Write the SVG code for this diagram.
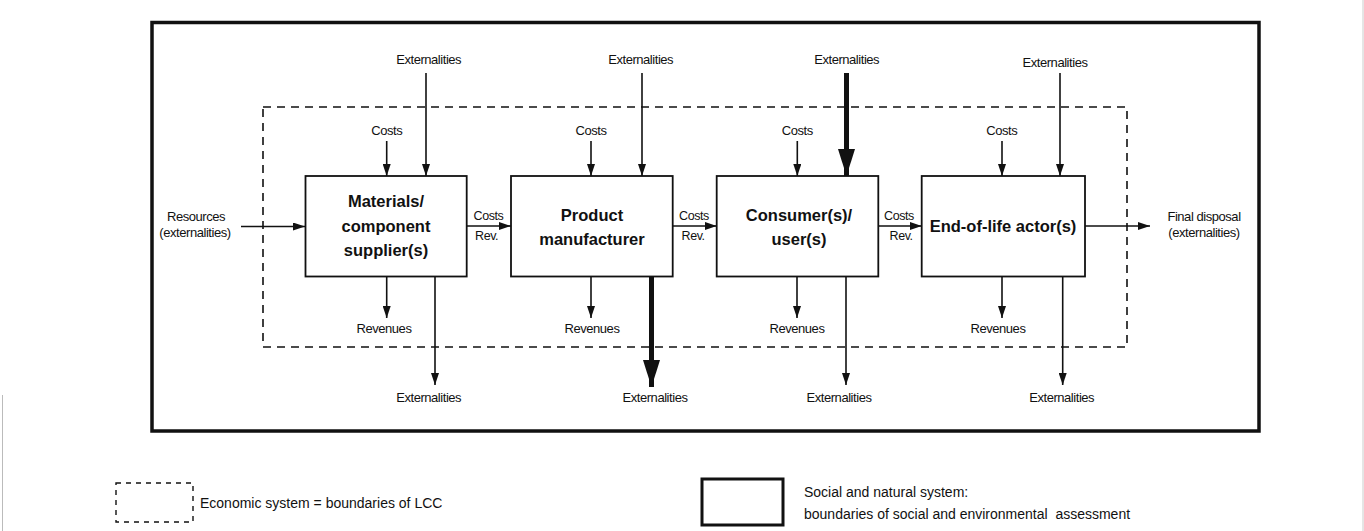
<svg xmlns="http://www.w3.org/2000/svg" width="1364" height="531" viewBox="0 0 1364 531">
<style>
text{font-family:"Liberation Sans",Arial,sans-serif;fill:#111}
.s{font-size:13px;letter-spacing:-0.45px;text-anchor:middle}
.cr{font-size:12.5px;letter-spacing:-0.4px}
.b{font-size:16.5px;font-weight:bold;text-anchor:middle}
.lg{font-size:14px;white-space:pre}
.box{fill:#fff;stroke:#111;stroke-width:1.8}
.ln{stroke:#111;stroke-width:1.6;fill:none}
.th{stroke:#111;stroke-width:5;fill:none}
.dash{fill:none;stroke:#111;stroke-width:1.6;stroke-dasharray:8 6}
</style>
<defs>
<marker id="ah" viewBox="0 0 12 8" refX="12" refY="4" markerWidth="12" markerHeight="8" markerUnits="userSpaceOnUse" orient="auto"><path d="M0,0L12,4L0,8z" fill="#111"/></marker>
<marker id="ahT" viewBox="0 0 27 17" refX="27" refY="8.5" markerWidth="27" markerHeight="17" markerUnits="userSpaceOnUse" orient="auto"><path d="M0,0L27,8.5L0,17z" fill="#111"/></marker>
</defs>
<rect width="1364" height="531" fill="#fff"/>
<line x1="2.5" y1="395" x2="2.5" y2="531" stroke="#bbb" stroke-width="1"/>
<line x1="1363" y1="0" x2="1363" y2="531" stroke="#ccc" stroke-width="1"/>

<g id="social-system">
<rect x="152" y="22.5" width="1107" height="408.5" fill="none" stroke="#111" stroke-width="3.5"/>
</g>
<g id="economic-system">
<rect class="dash" x="263" y="107" width="864" height="240"/>
</g>

<g id="connectors">
<line class="ln" x1="386.7" y1="141" x2="386.7" y2="176" marker-end="url(#ah)"/>
<line class="ln" x1="426" y1="73" x2="426" y2="176" marker-end="url(#ah)"/>
<line class="ln" x1="591" y1="141" x2="591" y2="176" marker-end="url(#ah)"/>
<line class="ln" x1="642" y1="73" x2="642" y2="176" marker-end="url(#ah)"/>
<line class="ln" x1="797.3" y1="141" x2="797.3" y2="176" marker-end="url(#ah)"/>
<line class="th" x1="846.5" y1="73" x2="846.5" y2="176" marker-end="url(#ahT)"/>
<line class="ln" x1="1002" y1="141" x2="1002" y2="176" marker-end="url(#ah)"/>
<line class="ln" x1="1060" y1="73" x2="1060" y2="176" marker-end="url(#ah)"/>
<line class="ln" x1="386.7" y1="276.5" x2="386.7" y2="318" marker-end="url(#ah)"/>
<line class="ln" x1="435" y1="276.5" x2="435" y2="385" marker-end="url(#ah)"/>
<line class="ln" x1="591" y1="276.5" x2="591" y2="318" marker-end="url(#ah)"/>
<line class="th" x1="651.5" y1="276.5" x2="651.5" y2="387" marker-end="url(#ahT)"/>
<line class="ln" x1="797" y1="276.5" x2="797" y2="318" marker-end="url(#ah)"/>
<line class="ln" x1="846" y1="276.5" x2="846" y2="385" marker-end="url(#ah)"/>
<line class="ln" x1="1002" y1="276.5" x2="1002" y2="318" marker-end="url(#ah)"/>
<line class="ln" x1="1062.7" y1="276.5" x2="1062.7" y2="385" marker-end="url(#ah)"/>
<line class="ln" x1="241" y1="226.5" x2="305" y2="226.5" marker-end="url(#ah)"/>
<line class="ln" x1="467" y1="226" x2="511" y2="226" marker-end="url(#ah)"/>
<line class="ln" x1="673" y1="226" x2="716.7" y2="226" marker-end="url(#ah)"/>
<line class="ln" x1="878.3" y1="226" x2="921.7" y2="226" marker-end="url(#ah)"/>
<line class="ln" x1="1085" y1="226" x2="1150" y2="226" marker-end="url(#ah)"/>
</g>

<g id="node-materials">
<rect class="box" x="305.5" y="176" width="161.2" height="100.5"/>
<text class="b" x="386" y="207">Materials/</text>
<text class="b" x="386" y="231.5">component</text>
<text class="b" x="386" y="256">supplier(s)</text>
</g>
<g id="node-manufacturer">
<rect class="box" x="511" y="176" width="161.7" height="100.5"/>
<text class="b" x="592" y="220.5">Product</text>
<text class="b" x="592" y="244.5">manufacturer</text>
</g>
<g id="node-consumer">
<rect class="box" x="716.7" y="176" width="161.6" height="100.5"/>
<text class="b" x="799" y="220.5">Consumer(s)/</text>
<text class="b" x="799" y="244.5">user(s)</text>
</g>
<g id="node-eol">
<rect class="box" x="921.7" y="176" width="163.3" height="100.5"/>
<text class="b" x="1003" y="232">End-of-life actor(s)</text>
</g>

<g id="labels">
<text class="s" x="428.7" y="64">Externalities</text>
<text class="s" x="640.7" y="64">Externalities</text>
<text class="s" x="846.7" y="64">Externalities</text>
<text class="s" x="1055" y="67">Externalities</text>
<text class="s" x="386.7" y="135">Costs</text>
<text class="s" x="591" y="135">Costs</text>
<text class="s" x="797.3" y="135">Costs</text>
<text class="s" x="1001.7" y="135">Costs</text>
<text class="s" x="384" y="333">Revenues</text>
<text class="s" x="592" y="333">Revenues</text>
<text class="s" x="797" y="333">Revenues</text>
<text class="s" x="998" y="333">Revenues</text>
<text class="s" x="428.7" y="402">Externalities</text>
<text class="s" x="655" y="402">Externalities</text>
<text class="s" x="839" y="402">Externalities</text>
<text class="s" x="1061.7" y="402">Externalities</text>
<text class="s" x="196" y="221">Resources</text>
<text class="s" x="195" y="236.5">(externalities)</text>
<text class="s" x="1204" y="221">Final disposal</text>
<text class="s" x="1204" y="237">(externalities)</text>
<text class="cr" x="473.5" y="220">Costs</text>
<text class="cr" x="475" y="240">Rev.</text>
<text class="cr" x="679" y="220">Costs</text>
<text class="cr" x="681.5" y="240">Rev.</text>
<text class="cr" x="884" y="220">Costs</text>
<text class="cr" x="889.5" y="240">Rev.</text>
</g>

<g id="legend">
<rect x="116" y="483" width="77" height="39" fill="none" stroke="#111" stroke-width="1.4" stroke-dasharray="5 5"/>
<text class="lg" x="200" y="508">Economic system = boundaries of LCC</text>
<rect x="702" y="479" width="81" height="46" fill="none" stroke="#111" stroke-width="3"/>
<text class="lg" x="804" y="497">Social and natural system:</text>
<text class="lg" x="804" y="519">boundaries of social and environmental  assessment</text>
</g>
</svg>
